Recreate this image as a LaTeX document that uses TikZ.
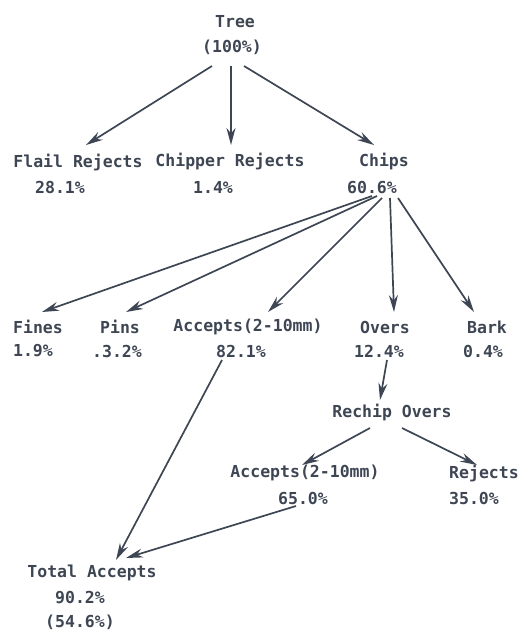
\documentclass[tikz,border=0pt]{standalone}
\usepackage{fontspec}
\setmonofont{DejaVu Sans Mono}
\usetikzlibrary{arrows.meta,calc}
\definecolor{ink}{HTML}{3E4654}
\tikzset{
  lbl/.style={inner sep=0pt, text=ink, font=\ttfamily\bfseries\fontsize{16.5}{18}\selectfont},
  arr/.style={draw=ink, line width=1.7pt, -{Stealth[length=17pt,width=9pt]}}
}
\begin{document}
\begin{tikzpicture}[x=1pt,y=-1pt]
\useasboundingbox (0,0) rectangle (524,634);
\node[lbl] (tree) at (235,22) {Tree};
\node[lbl] (treev) at (232,47) {(100\%)};
\node[lbl] (flail) at (78,162) {Flail Rejects};
\node[lbl] (flailv) at (60,187) {28.1\%};
\node[lbl] (chipper) at (230,162) {Chipper Rejects};
\node[lbl] (chipperv) at (213,187) {1.4\%};
\node[lbl] (chips) at (384,162) {Chips};
\node[lbl] (chipsv) at (372,187) {60.6\%};
\node[lbl] (fines) at (38,327) {Fines};
\node[lbl] (finesv) at (33,351) {1.9\%};
\node[lbl] (pins) at (120,327) {Pins};
\node[lbl] (pinsv) at (117,351) {.3.2\%};
\node[lbl] (acc) at (248,327) {Accepts(2-10mm)};
\node[lbl] (accv) at (241,351) {82.1\%};
\node[lbl] (overs) at (385,327) {Overs};
\node[lbl] (oversv) at (379,351) {12.4\%};
\node[lbl] (bark) at (487,327) {Bark};
\node[lbl] (barkv) at (483,351) {0.4\%};
\node[lbl] (rechip) at (392,413) {Rechip Overs};
\node[lbl] (acc2) at (305,473) {Accepts(2-10mm)};
\node[lbl] (acc2v) at (303,498) {65.0\%};
\node[lbl] (rej) at (484,473) {Rejects};
\node[lbl] (rejv) at (474,498) {35.0\%};
\node[lbl] (total) at (92,573) {Total Accepts};
\node[lbl] (totalv) at (80,598) {90.2\%};
\node[lbl] (totalp) at (80,622) {(54.6\%)};
\draw[arr] ($(treev)+(-20,19)$) -- ($(flail)+(8,-17)$);
\draw[arr] ($(treev)+(-1,19)$) -- ($(chipper)+(1,-17)$);
\draw[arr] ($(treev)+(12,19)$) -- ($(chips)+(-10,-17)$);
\draw[arr] ($(chipsv)+(0,9)$) -- ($(fines)+(4,-15)$);
\draw[arr] ($(chipsv)+(5,9)$) -- ($(pins)+(6,-15)$);
\draw[arr] ($(chipsv)+(10,11)$) -- ($(acc)+(20,-15)$);
\draw[arr] ($(chipsv)+(18,11)$) -- ($(overs)+(9,-15)$);
\draw[arr] ($(chipsv)+(26,11)$) -- ($(bark)+(-13,-15)$);
\draw[arr] ($(oversv)+(8,9)$) -- ($(rechip)+(-12,-13)$);
\draw[arr] ($(rechip)+(-22,15)$) -- ($(acc2)+(-3,-8)$);
\draw[arr] ($(rechip)+(10,15)$) -- ($(rej)+(-7,-8)$);
\draw[arr] ($(accv)+(-19,9)$) -- ($(total)+(24,-13)$);
\draw[arr] ($(acc2v)+(-7,8)$) -- ($(total)+(34,-15)$);
\end{tikzpicture}
\end{document}
